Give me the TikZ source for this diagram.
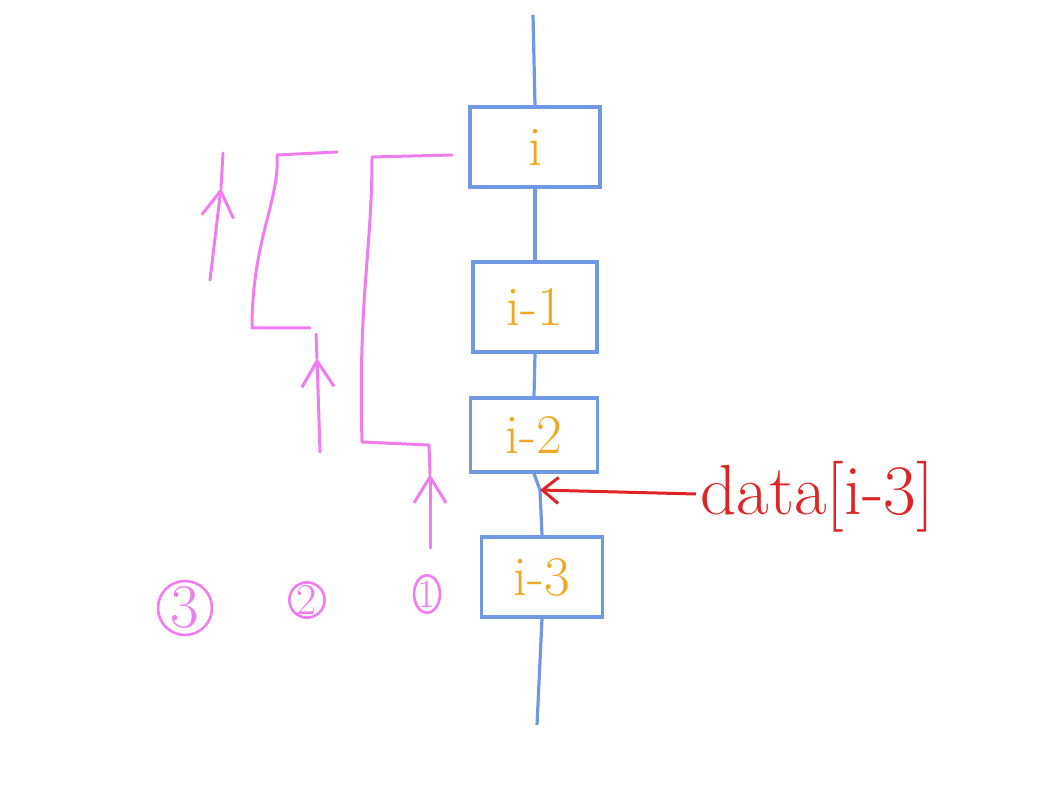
\documentclass[tikz,border=0pt]{standalone}
\usetikzlibrary{arrows.meta,shapes.geometric}
\definecolor{boxblue}{RGB}{112,152,228}
\definecolor{lblorange}{RGB}{240,168,32}
\definecolor{pathmag}{RGB}{240,124,240}
\definecolor{datared}{RGB}{222,36,36}
\begin{document}
\begin{tikzpicture}[x=1pt,y=-1pt,
  blk/.style={draw=boxblue,line width=3.2pt,text=lblorange,inner sep=0pt,font=\fontsize{56}{56}\selectfont},
  spine/.style={draw=boxblue,line width=3.2pt},
  mag/.style={draw=pathmag,line width=3pt,line join=round,line cap=round},
  magarrow/.style={mag,-{Straight Barb[length=26pt,width=32pt,line width=3pt]}},
  redarrow/.style={draw=datared,line width=3pt,-{Straight Barb[length=16pt,width=26pt,line width=3pt]}},
  numcirc/.style={draw=pathmag,line width=2.6pt,text=pathmag,inner sep=0pt}]
\useasboundingbox (0,0) rectangle (1038,791);
% boxes
\node[blk,minimum width=130pt,minimum height=80pt] (bi) at (535,147) {i};
\node[blk,minimum width=124pt,minimum height=90pt] (bi1) at (535,307) {i-1};
\node[blk,minimum width=127pt,minimum height=74pt] (bi2) at (534,435) {i-2};
\node[blk,minimum width=121pt,minimum height=80pt] (bi3) at (542,577) {i-3};
% spine
\coordinate (top) at (533,15);
\coordinate (bot) at (537,725);
\coordinate (hit) at (540,490);
\draw[spine] (top) -- (bi.north);
\draw[spine] (bi.south) -- (bi1.north);
\draw[spine] (bi1.south) -- (bi2.north);
\draw[spine] (bi2.south) -- (hit) -- (bi3.north);
\draw[spine] (bi3.south) -- (bot);
% data label and arrow
\node[text=datared,font=\fontsize{71}{71}\selectfont,anchor=base west,inner sep=0pt] (data) at (700,514) {data[i-3]};
\coordinate (dstart) at (696,494);
\draw[redarrow] (dstart) -- (hit);
% path 1
\coordinate (a1) at (430,548);
\coordinate (m1) at (430,474);
\coordinate (b1) at (429,445);
\coordinate (c1) at (362,442);
\coordinate (d1) at (372,157);
\coordinate (e1) at (452,155);
\draw[magarrow] (a1) -- (m1);
\draw[mag] (m1) -- (b1) -- (c1) .. controls (358,300) and (372,250) .. (d1) -- (e1);
% path 2
\coordinate (a2) at (320,452);
\coordinate (m2) at (317,358);
\coordinate (b2) at (316,334);
\coordinate (c2) at (252,328);
\coordinate (d2) at (277,155);
\coordinate (e2) at (337,152);
\coordinate (f2) at (310,328);
\draw[magarrow] (a2) -- (m2);
\draw[mag] (m2) -- (b2);
\draw[mag] (f2) -- (c2) .. controls (252,240) and (280,200) .. (d2) -- (e2);
% path 3
\coordinate (a3) at (210,280);
\coordinate (m3) at (221,188);
\coordinate (b3) at (223,153);
\draw[magarrow] (a3) -- (m3);
\draw[mag] (m3) -- (b3);
% circled numbers
\node[numcirc,ellipse,minimum width=24pt,minimum height=30pt,font=\fontsize{40}{40}\selectfont] (n1) at (427,594) {1};
\node[numcirc,circle,minimum size=35pt,font=\fontsize{44}{44}\selectfont] (n2) at (307,600) {2};
\node[numcirc,circle,minimum size=54pt,font=\fontsize{62}{62}\selectfont] (n3) at (185,608) {3};
\end{tikzpicture}
\end{document}
